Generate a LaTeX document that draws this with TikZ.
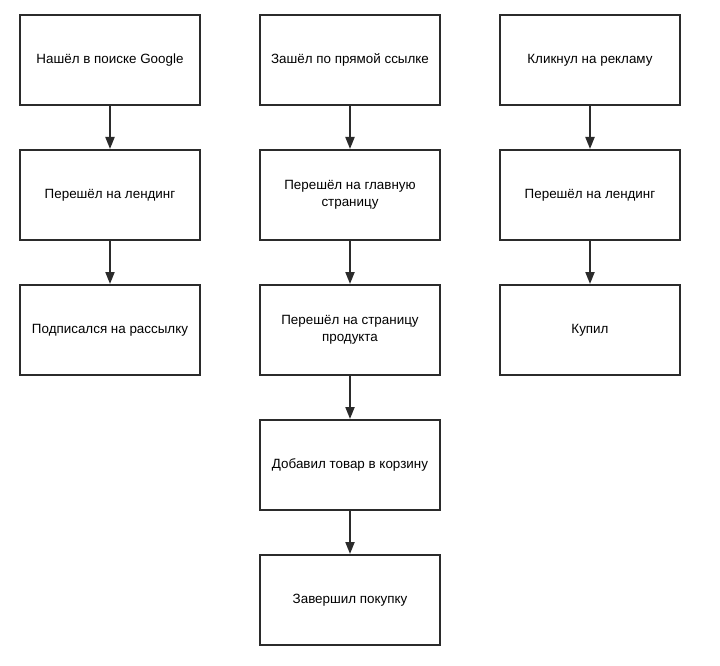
\documentclass[tikz,border=0pt]{standalone}
\usepackage{fontspec}
\setmainfont{Liberation Sans}
\usetikzlibrary{arrows.meta}
\definecolor{edge}{HTML}{2b2b2b}
\begin{document}
\begin{tikzpicture}[x=1pt,y=-1pt,
  box/.style={draw=edge,line width=2pt,minimum width=180pt,minimum height=90pt,inner sep=0pt,align=center,font=\fontsize{13.4}{17.5}\selectfont,text=black},
  conn/.style={draw=edge,line width=2pt,-{Triangle[length=12pt,width=9pt]}}]
\useasboundingbox (0,0) rectangle (720,666);
\node[box] (a1) at (110,60) {Нашёл в поиске Google};
\node[box] (a2) at (110,195) {Перешёл на лендинг};
\node[box] (a3) at (110,330) {Подписался на рассылку};
\node[box] (b1) at (350,60) {Зашёл по прямой ссылке};
\node[box] (b2) at (350,195) {Перешёл на главную\\страницу};
\node[box] (b3) at (350,330) {Перешёл на страницу\\продукта};
\node[box] (b4) at (350,465) {Добавил товар в корзину};
\node[box] (b5) at (350,600) {Завершил покупку};
\node[box] (c1) at (590,60) {Кликнул на рекламу};
\node[box] (c2) at (590,195) {Перешёл на лендинг};
\node[box] (c3) at (590,330) {Купил};
\draw[conn] (a1) -- (a2);
\draw[conn] (a2) -- (a3);
\draw[conn] (b1) -- (b2);
\draw[conn] (b2) -- (b3);
\draw[conn] (b3) -- (b4);
\draw[conn] (b4) -- (b5);
\draw[conn] (c1) -- (c2);
\draw[conn] (c2) -- (c3);
\end{tikzpicture}
\end{document}
